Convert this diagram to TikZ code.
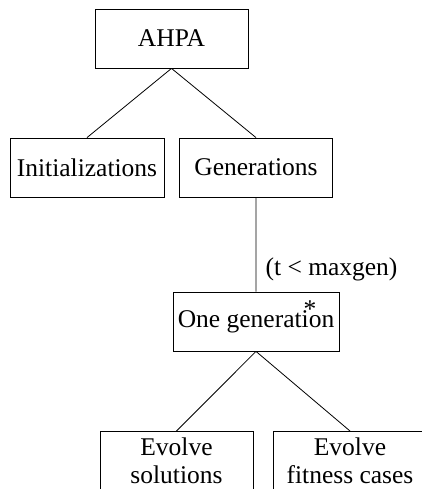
\documentclass[tikz,border=0pt]{standalone}
\usepackage{fontspec}
\setmainfont{Liberation Serif}

\begin{document}
\begin{tikzpicture}[x=1pt,y=-1pt,line width=0.8pt,
  font=\fontsize{25.5}{28}\selectfont,
  box/.style={draw, minimum width=153pt, minimum height=59pt, inner sep=0pt},
  twoline/.style={box, align=center, minimum height=58pt, anchor=north}]

\useasboundingbox (0,0) rectangle (421,489);

\node[box] (ahpa) at (171.5,38.5) {AHPA};
\node[box, minimum width=154pt] (init) at (87,167.5) {Initializations};
\node[box] (gen) at (256,167.5) {Generations};
\node[box, minimum width=166pt] (onegen) at (256,321.5) {One generation};
\node[inner sep=0pt] (star) at (310,309) {*};
\node (cond) at (331.5,269) {(t < maxgen)};

\node[twoline] (evsol) at (176.5,431) {Evolve\\solutions};
\node[twoline] (evfit) at (350,431) {Evolve\\fitness cases};

\draw (ahpa.south) -- (init.north)
(ahpa.south) -- (gen.north)
(gen.south) -- (onegen.north)
(onegen.south) -- (evsol.north)
(onegen.south) -- (evfit.north);

\end{tikzpicture}
\end{document}
